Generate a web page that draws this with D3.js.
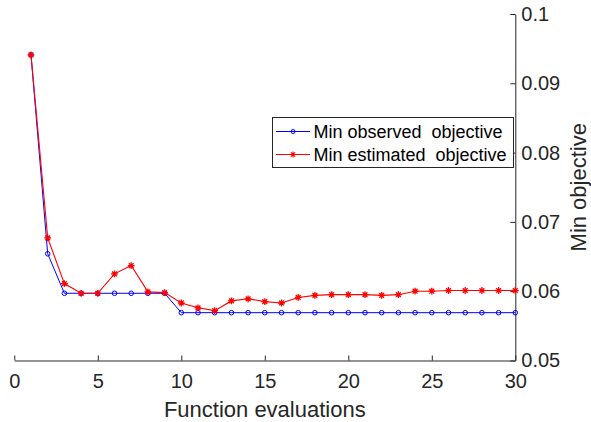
<!DOCTYPE html>
<html>
<head>
<meta charset="utf-8">
<script src="https://cdn.jsdelivr.net/npm/d3@7"></script>
<style>
  body { margin: 0; background: #fff; }
  svg { font-family: "Liberation Sans", Arial, Helvetica, sans-serif; }
</style>
</head>
<body>
<script>
'use strict';

// function evaluation index
const evals = d3.range(1, 31);

// min observed objective (blue circles)
const observed = [
  0.0941, 0.0654, 0.0597, 0.0597, 0.0597, 0.0597, 0.0597, 0.0597, 0.0597, 0.0569,
  0.0569, 0.0569, 0.0569, 0.0569, 0.0569, 0.0569, 0.0569, 0.0569, 0.0569, 0.0569,
  0.0569, 0.0569, 0.0569, 0.0569, 0.0569, 0.0569, 0.0569, 0.0569, 0.0569, 0.0569
];

// min estimated objective (red asterisks)
const estimated = [
  0.0941, 0.0677, 0.0611, 0.0597, 0.0597, 0.0625, 0.0637, 0.0599, 0.0598, 0.0583,
  0.0576, 0.0572, 0.0586, 0.0589, 0.0585, 0.0583, 0.0591, 0.0594, 0.0595, 0.0595,
  0.0595, 0.0594, 0.0595, 0.0600, 0.0600, 0.0601, 0.0601, 0.0601, 0.0601, 0.0601
];

const xTicks = [0, 5, 10, 15, 20, 25, 30];
const yTicks = [0.05, 0.06, 0.07, 0.08, 0.09, 0.1];
const seriesNames = ['Min observed  objective', 'Min estimated  objective'];

const width = 591, height = 422;
const axisColor = '#262626';

const svg = d3.select('body').append('svg')
  .attr('width', width)
  .attr('height', height);

const x = d3.scaleLinear().domain([0, 30]).range([14.3, 515.3]);
const y = d3.scaleLinear().domain([0.05, 0.1]).range([360.5, 14]);

// x axis along the bottom, ticks pointing inward
const gx = svg.append('g')
  .attr('transform', `translate(0,${y(0.05)})`)
  .call(d3.axisBottom(x).tickValues(xTicks).tickSizeInner(-5).tickSizeOuter(0).tickPadding(13));

// y axis on the right, ticks pointing inward
const gy = svg.append('g')
  .attr('transform', `translate(${x(30)},0)`)
  .call(d3.axisRight(y).tickValues(yTicks).tickSizeInner(-5).tickSizeOuter(0).tickPadding(6)
    .tickFormat((d) => String(+d.toFixed(2))));

for (const g of [gx, gy]) {
  g.select('.domain').attr('stroke', axisColor).attr('stroke-width', 1);
  g.selectAll('.tick line').attr('stroke', axisColor);
  g.selectAll('.tick text')
    .attr('fill', axisColor)
    .style('font-size', '20px')
    .style('font-family', '"Liberation Sans", Arial, sans-serif');
}

// axis titles
svg.append('text')
  .attr('x', (x(0) + x(30)) / 2)
  .attr('y', 416.5)
  .attr('text-anchor', 'middle')
  .attr('fill', axisColor)
  .style('font-size', '22px')
  .text('Function evaluations');

svg.append('text')
  .attr('transform', `translate(586,${(y(0.05) + y(0.1)) / 2}) rotate(-90)`)
  .attr('text-anchor', 'middle')
  .attr('fill', axisColor)
  .style('font-size', '22px')
  .text('Min objective');

// markers
function asterisk(sel, r) {
  const p = d3.path();
  const d = r * Math.SQRT1_2;
  p.moveTo(-r, 0); p.lineTo(r, 0);
  p.moveTo(0, -r); p.lineTo(0, r);
  p.moveTo(-d, -d); p.lineTo(d, d);
  p.moveTo(-d, d); p.lineTo(d, -d);
  return sel.append('path').attr('d', p.toString());
}

const line = d3.line()
  .x((d, i) => x(evals[i]))
  .y((d) => y(d));

// observed series
svg.append('path')
  .datum(observed)
  .attr('fill', 'none')
  .attr('stroke', '#0000ff')
  .attr('stroke-width', 1)
  .attr('d', line);

svg.append('g').selectAll('circle')
  .data(observed)
  .join('circle')
    .attr('cx', (d, i) => x(evals[i]))
    .attr('cy', (d) => y(d))
    .attr('r', 2.3)
    .attr('fill', 'none')
    .attr('stroke', '#0000ff')
    .attr('stroke-width', 1);

// estimated series
svg.append('path')
  .datum(estimated)
  .attr('fill', 'none')
  .attr('stroke', '#ff0000')
  .attr('stroke-width', 1.1)
  .attr('d', line);

const estMarks = svg.append('g');
estimated.forEach((v, i) => {
  const g = estMarks.append('g').attr('transform', `translate(${x(evals[i])},${y(v)})`);
  asterisk(g, 3.4).attr('stroke', '#ff0000').attr('stroke-width', 1.3).attr('fill', 'none');
});

// legend
const legend = svg.append('g');
legend.append('rect')
  .attr('x', 272.5)
  .attr('y', 117.5)
  .attr('width', 241)
  .attr('height', 50)
  .attr('fill', '#fff')
  .attr('stroke', axisColor)
  .attr('stroke-width', 1);

const rowY = [131.5, 154.5];
const colors = ['#0000ff', '#ff0000'];
seriesNames.forEach((name, i) => {
  legend.append('line')
    .attr('x1', 276).attr('x2', 310)
    .attr('y1', rowY[i]).attr('y2', rowY[i])
    .attr('stroke', colors[i]).attr('stroke-width', 1);
  if (i === 0) {
    legend.append('circle')
      .attr('cx', 293).attr('cy', rowY[i]).attr('r', 2)
      .attr('fill', 'none').attr('stroke', colors[i]);
  } else {
    const g = legend.append('g').attr('transform', `translate(293,${rowY[i]})`);
    asterisk(g, 3).attr('stroke', colors[i]).attr('stroke-width', 1.1);
  }
  legend.append('text')
    .attr('x', 313.5)
    .attr('y', rowY[i])
    .attr('dy', '0.36em')
    .attr('fill', '#000')
    .style('font-size', '18px')
    .style('white-space', 'pre')
    .text(name);
});
</script>
</body>
</html>
